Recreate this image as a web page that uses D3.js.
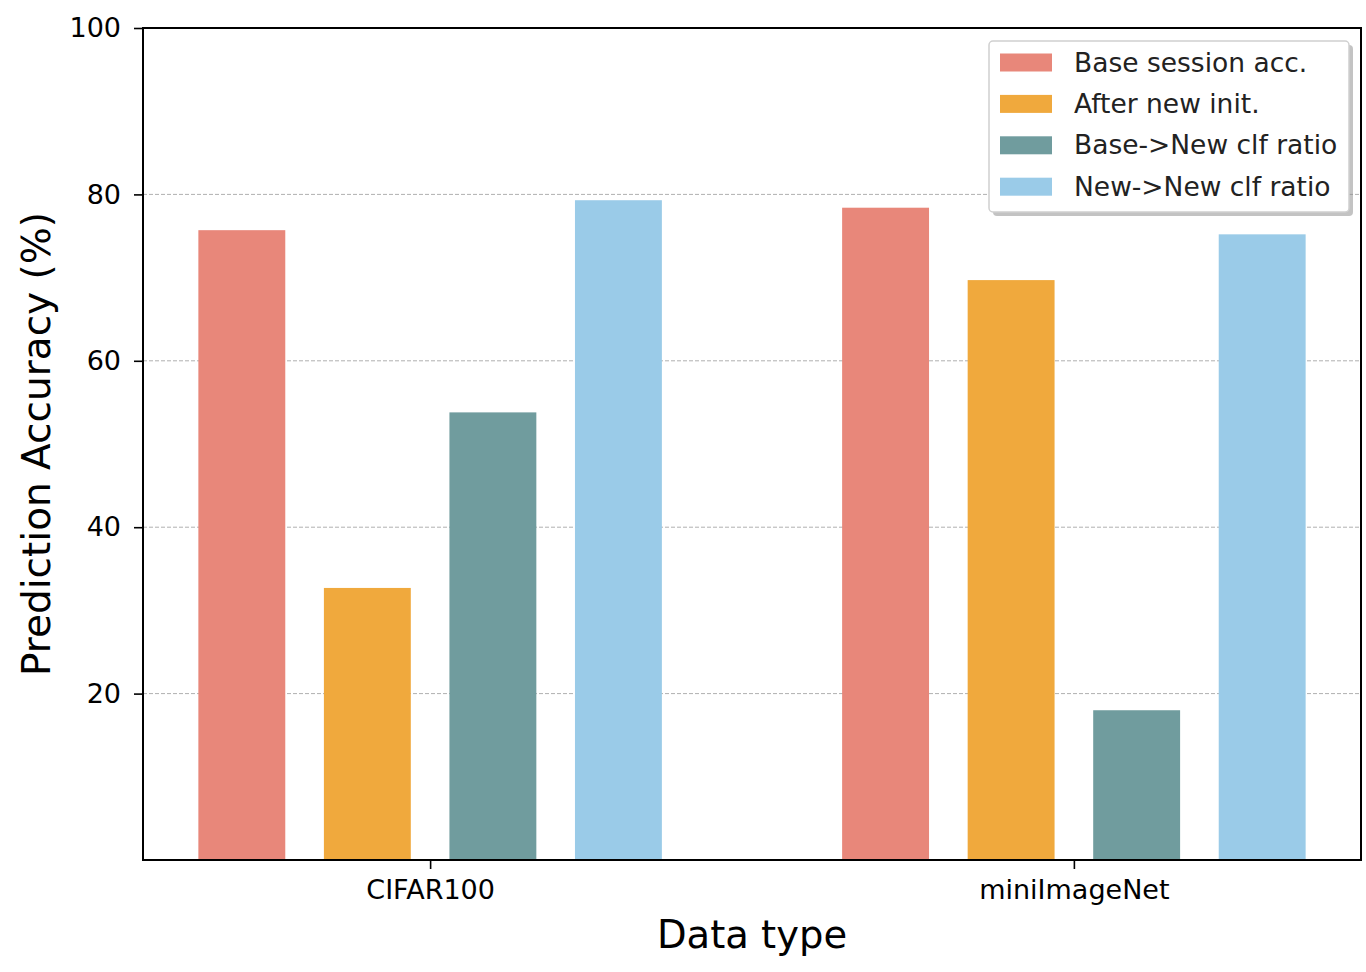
<!DOCTYPE html>
<html>
<head>
<meta charset="utf-8">
<script src="https://cdn.jsdelivr.net/npm/d3@7"></script>
<style>
  body { margin: 0; background: #fff; }
  svg { font-family: "DejaVu Sans", sans-serif; }
</style>
</head>
<body>
<div id="canvas"></div>
<script>
const categories = ["CIFAR100", "miniImageNet"];
const seriesNames = ["Base session acc.", "After new init.", "Base->New clf ratio", "New->New clf ratio"];
const seriesColors = ["#e8877a", "#f0a93d", "#709c9e", "#9acbe8"];
const baseSession = [75.7, 78.4];
const afterInit = [32.7, 69.7];
const baseToNew = [53.8, 18.0];
const newToNew = [79.3, 75.2];
const yTicks = [20, 40, 60, 80, 100];

const series = [baseSession, afterInit, baseToNew, newToNew];

const width = 1366, height = 972;
const margin = { top: 28, left: 143, bottom: 112, right: 5 };
const iwidth = width - margin.left - margin.right;
const iheight = height - margin.top - margin.bottom;

const svg = d3.select("#canvas").append("svg")
  .attr("width", width)
  .attr("height", height);

const g = svg.append("g").attr("transform", `translate(${margin.left},${margin.top})`);

// bar geometry in data units (groups at 0 and 1)
const barW = 0.135;
const step = 0.195;
const offsets = [-1.5, -0.5, 0.5, 1.5].map(k => k * step);
const lo = offsets[0] - barW / 2, hi = 1 + offsets[3] + barW / 2;
const pad = (hi - lo) * 0.05;

const x = d3.scaleLinear().domain([lo - pad, hi + pad]).range([0, iwidth]);
const y = d3.scaleLinear().domain([0, 100]).range([iheight, 0]);

// grid
g.append("g").selectAll("line").data(yTicks.filter(t => t < 100)).enter()
  .append("line")
  .attr("x1", 0).attr("x2", iwidth)
  .attr("y1", d => y(d)).attr("y2", d => y(d))
  .attr("stroke", "#b0b0b0")
  .attr("stroke-width", 1)
  .attr("stroke-dasharray", "4,2");

// bars
series.forEach((vals, si) => {
  g.append("g").selectAll("rect").data(vals).enter()
    .append("rect")
    .attr("x", (d, i) => x(i + offsets[si] - barW / 2))
    .attr("width", x(barW) - x(0))
    .attr("y", d => y(d))
    .attr("height", d => iheight - y(d))
    .style("fill", seriesColors[si]);
});

// axes
const yAxis = g.append("g")
  .call(d3.axisLeft(y).tickValues(yTicks).tickSize(9).tickPadding(13));
const xAxis = g.append("g")
  .attr("transform", `translate(0,${iheight})`)
  .call(d3.axisBottom(x).tickValues([0, 1]).tickFormat(i => categories[i]).tickSize(9).tickPadding(11));

[yAxis, xAxis].forEach(a => {
  a.select(".domain").remove();
  a.selectAll(".tick line").attr("stroke", "#000").attr("stroke-width", 1.6);
  a.selectAll(".tick text").attr("fill", "#000").style("font-size", "27px").style("font-family", "DejaVu Sans");
});

// frame
g.append("rect")
  .attr("x", 0).attr("y", 0)
  .attr("width", iwidth).attr("height", iheight)
  .attr("fill", "none")
  .attr("stroke", "#000")
  .attr("stroke-width", 2);

// axis labels
svg.append("text")
  .attr("x", margin.left + iwidth / 2)
  .attr("y", 948)
  .attr("text-anchor", "middle")
  .style("font-size", "38.5px")
  .text("Data type");

svg.append("text")
  .attr("transform", `translate(50,${margin.top + iheight / 2}) rotate(-90)`)
  .attr("text-anchor", "middle")
  .style("font-size", "39px")
  .text("Prediction Accuracy (%)");

// legend
const lg = svg.append("g").attr("transform", "translate(989,41)");
lg.append("rect")
  .attr("x", 4).attr("y", 4).attr("width", 360).attr("height", 171)
  .attr("rx", 4).attr("fill", "#888").attr("opacity", 0.5);
lg.append("rect")
  .attr("x", 0).attr("y", 0).attr("width", 360).attr("height", 171)
  .attr("rx", 4).attr("fill", "#fff").attr("stroke", "#d0d0d0").attr("stroke-width", 1.5);

const items = lg.selectAll(".item").data(seriesNames).enter()
  .append("g")
  .attr("transform", (d, i) => `translate(11,${21.5 + i * 41.4})`);
items.append("rect")
  .attr("x", 0).attr("y", -9).attr("width", 52).attr("height", 18)
  .attr("fill", (d, i) => seriesColors[i]);
items.append("text")
  .attr("x", 74).attr("y", 9)
  .style("font-size", "26.5px")
  .attr("fill", "#222")
  .text(d => d);
</script>
</body>
</html>
